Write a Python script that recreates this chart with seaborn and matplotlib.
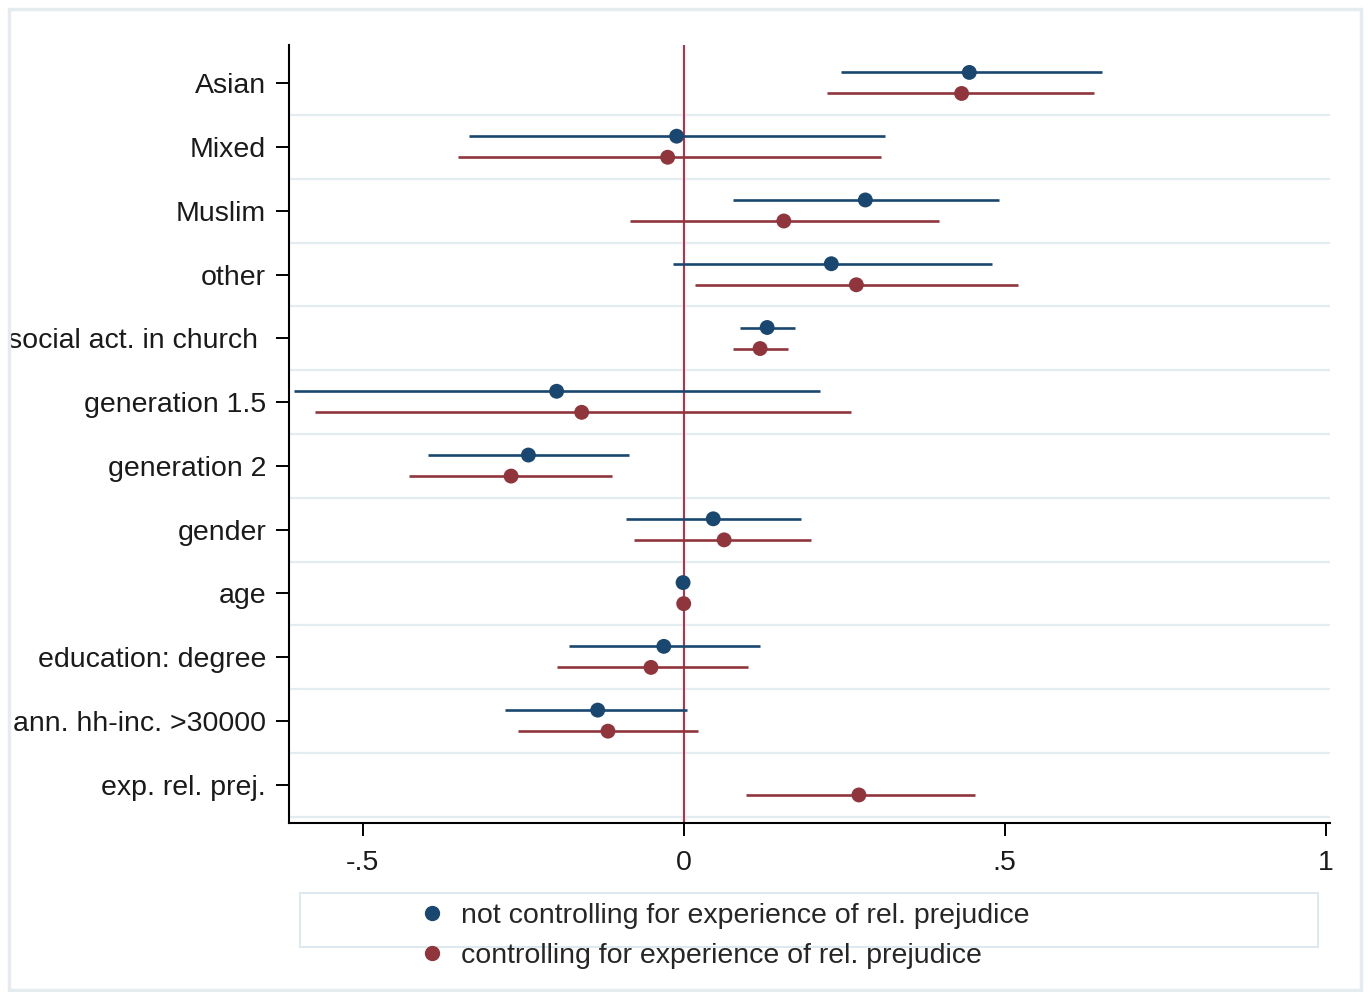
import numpy as np
import pandas as pd
import matplotlib.pyplot as plt
from matplotlib.lines import Line2D
from matplotlib.patches import Rectangle
import seaborn as sns

# ── data ─────────────────────────────────────────────────────────────────────
categories = ["Asian", "Mixed", "Muslim", "other", "social act. in church ",
              "generation 1.5", "generation 2", "gender", "age",
              "education: degree", "ann. hh-inc. >30000", "exp. rel. prej."]

est_base = [0.445, -0.011, 0.283, 0.230, 0.130, -0.198, -0.242, 0.046, -0.001,
            -0.031, -0.134, np.nan]
lo_base  = [0.245, -0.335, 0.077, -0.017, 0.087, -0.607, -0.398, -0.090, -0.004,
            -0.178, -0.278, np.nan]
hi_base  = [0.651, 0.313, 0.491, 0.480, 0.173, 0.213, -0.085, 0.182, 0.002,
            0.119, 0.005, np.nan]

est_ctrl = [0.433, -0.025, 0.156, 0.269, 0.119, -0.159, -0.269, 0.063, 0.000,
            -0.051, -0.118, 0.273]
lo_ctrl  = [0.224, -0.351, -0.084, 0.017, 0.077, -0.575, -0.428, -0.078, -0.003,
            -0.198, -0.258, 0.097]
hi_ctrl  = [0.640, 0.307, 0.397, 0.521, 0.163, 0.260, -0.111, 0.199, 0.003,
            0.100, 0.022, 0.454]

series = ["not controlling for experience of rel. prejudice",
          "controlling for experience of rel. prejudice"]
xticks = [-0.5, 0, 0.5, 1]
xtick_labels = ["-.5", "0", ".5", "1"]

COLORS = {series[0]: "#1a476f", series[1]: "#90353b"}
OFFSETS = {series[0]: -0.17, series[1]: 0.16}

rows = []
for s, est, lo, hi in [(series[0], est_base, lo_base, hi_base),
                       (series[1], est_ctrl, lo_ctrl, hi_ctrl)]:
    for i, cat in enumerate(categories):
        rows.append({"series": s, "cat": cat, "pos": i + OFFSETS[s],
                     "est": est[i], "lo": lo[i], "hi": hi[i]})
df = pd.DataFrame(rows).dropna()

sns.set_theme(style="white")
plt.rcParams["font.family"] = ["Liberation Sans", "DejaVu Sans"]

fig = plt.figure(figsize=(13.68, 9.92), dpi=100)
ax = fig.add_axes([289 / 1368, 1 - 823 / 992, (1330 - 289) / 1368, (823 - 45) / 992])

# light grid between categories
for g in np.arange(0.5, len(categories), 1.0):
    ax.axhline(g, color="#e3edf1", lw=1.6, zorder=0)

ax.axvline(0, color="#d0203a", lw=1.4, zorder=1)

for s, sub in df.groupby("series", sort=False):
    ax.hlines(sub["pos"], sub["lo"], sub["hi"], color=COLORS[s], lw=1.9, zorder=2)

sns.scatterplot(data=df, x="est", y="pos", hue="series", palette=COLORS,
                s=115, edgecolor="none", legend=False, ax=ax, zorder=3)

ax.set_xlim(-0.615, 1.007)
ax.set_ylim(len(categories) - 0.4, -0.6)
ax.set_yticks(range(len(categories)))
ax.set_yticklabels(categories)
ax.set_xticks(xticks)
ax.set_xticklabels(xtick_labels)
ax.set_xlabel("")
ax.set_ylabel("")
ax.tick_params(axis="both", which="both", direction="out", length=9.5, width=1.4,
               color="black", labelsize=20.5, labelcolor="#1a1a1a")
ax.tick_params(axis="y", pad=7)
ax.tick_params(axis="x", pad=10)
ax.xaxis.set_ticks_position("bottom")
ax.yaxis.set_ticks_position("left")

for side in ["top", "right"]:
    ax.spines[side].set_visible(False)
for side in ["left", "bottom"]:
    ax.spines[side].set_color("black")
    ax.spines[side].set_linewidth(1.5)
ax.set_facecolor("white")

# legend box (Stata style) and entries
fig.patches.append(Rectangle((300 / 1368, 1 - 947 / 992), 1018 / 1368, 54 / 992,
                             transform=fig.transFigure, fill=False,
                             edgecolor="#dde9ee", lw=1.4))
handles = [Line2D([], [], ls="none", marker="o", ms=10, color=COLORS[s]) for s in series]
fig.legend(handles, series, loc="center left", bbox_to_anchor=(418 / 1368, 1 - 936 / 992),
           frameon=False, fontsize=20.5, handlelength=1.0, handletextpad=0.5,
           labelspacing=0.5, borderpad=0, borderaxespad=0)

# outer frame
fig.patches.append(Rectangle((9 / 1368, 1 - 990 / 992), 1352 / 1368, 981 / 992,
                             transform=fig.transFigure, fill=False,
                             edgecolor="#e4ecef", lw=2.5))

fig.savefig("out.png", dpi=100, facecolor="white")
